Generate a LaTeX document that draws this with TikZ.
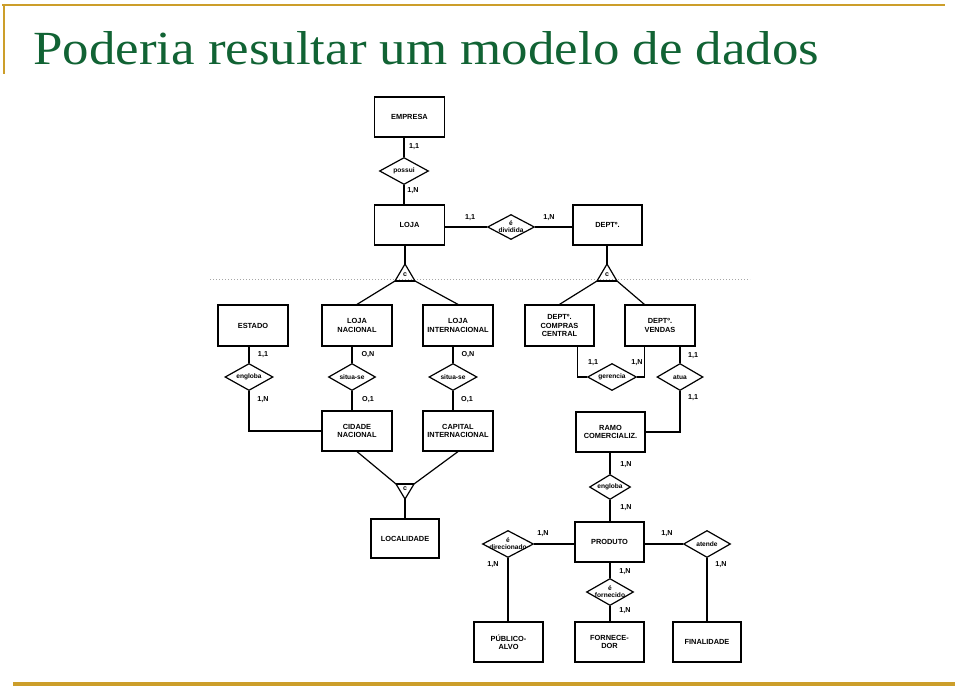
\documentclass[tikz,border=0pt]{standalone}
\usepackage{graphicx}
\usepackage{fontspec}
\setmainfont{Liberation Serif}
\newfontfamily\diagfont{Liberation Sans}
\usetikzlibrary{shapes.geometric,calc}
\definecolor{titlegreen}{RGB}{17,99,52}
\definecolor{slidegold}{RGB}{204,158,42}
\begin{document}
\begin{tikzpicture}[x=1pt,y=-1pt,
  ent/.style 2 args={draw, line width=1.2pt, rectangle, minimum width=#1pt, minimum height=#2pt,
    inner sep=0pt, align=center, font=\diagfont\bfseries\fontsize{7.4}{8.4}\selectfont},
  rtxt/.style={inner sep=0pt, align=center, font=\diagfont\bfseries\fontsize{6.6}{7}\selectfont},
  rel/.style n args={3}{draw, line width=1.2pt, diamond, inner sep=0pt,
    minimum width=#1pt, minimum height=#2pt, label={[rtxt]center:{#3}}},
  card/.style={inner sep=0pt, font=\diagfont\bfseries\fontsize{7.2}{8}\selectfont},
  conn/.style={line width=1.2pt},
  ctxt/.style={inner sep=0pt, font=\diagfont\bfseries\fontsize{7}{7}\selectfont}]
\useasboundingbox (0,0) rectangle (960,687);
% slide frame
\draw[slidegold, line width=2pt] (2,5) -- (945,5);
\draw[slidegold, line width=2pt] (4,4) -- (4,74);
\draw[slidegold, line width=3.5pt] (13,684) -- (955,684);
\node[anchor=base west, inner sep=0pt, text=titlegreen] (title) at (33,65)
  {\resizebox{786pt}{33pt}{Poderia resultar um modelo de dados}};

% faint dotted line
\draw[black!35, line width=0.8pt, dash pattern=on 1pt off 2pt] (210,279) -- (750,279);

% entities
\node[ent={70}{40}] (emp) at (409.5,117) {EMPRESA};
\node[ent={70}{40}] (loja) at (409.5,225) {LOJA};
\node[ent={69}{40}] (dept) at (607.5,225) {DEPTº.};
\node[ent={70}{41}] (estado) at (253,325.5) {ESTADO};
\node[ent={70}{41}] (lnac) at (357,325.5) {LOJA\\NACIONAL};
\node[ent={70}{41}] (lint) at (458,325.5) {LOJA\\INTERNACIONAL};
\node[ent={69}{41}] (dcc) at (559.5,325.5) {DEPTº.\\COMPRAS\\CENTRAL};
\node[ent={70}{41}] (dven) at (660,325.5) {DEPTº.\\VENDAS};
\node[ent={70}{40}] (cnac) at (357,431) {CIDADE\\NACIONAL};
\node[ent={70}{40}] (cint) at (458,431) {CAPITAL\\INTERNACIONAL};
\node[ent={69}{40}] (ramo) at (610.5,432) {RAMO\\COMERCIALIZ.};
\node[ent={68}{39}] (local) at (405,538.5) {LOCALIDADE};
\node[ent={69}{40}] (prod) at (609.5,542) {PRODUTO};
\node[ent={69}{40}] (pub) at (508.5,642) {PÚBLICO-\\ALVO};
\node[ent={69}{40}] (forn) at (609.5,642) {FORNECE-\\DOR};
\node[ent={68}{40}] (fin) at (707,642) {FINALIDADE};

% relationships
\node[rel={49}{27}{possui}] (possui) at (404,171) {};
\node[rel={47}{25}{é\\dividida}] (divi) at (511,227) {};
\node[rel={48}{27}{engloba}] (engl1) at (249,377) {};
\node[rel={47}{27}{situa-se}] (sit1) at (352,377) {};
\node[rel={48}{27}{situa-se}] (sit2) at (453,377) {};
\node[rel={49}{27}{gerencia}] (geren) at (612,377) {};
\node[rel={46}{27}{atua}] (atua) at (680,377) {};
\node[rel={41}{25}{engloba}] (engl2) at (610,487) {};
\node[rel={51}{27}{é\\direcionado}] (direc) at (508,544) {};
\node[rel={47}{27}{é\\fornecido}] (fornec) at (610,592) {};
\node[rel={47}{27}{atende}] (atende) at (707,544) {};

% connectors
\draw[conn] (possui.north |- emp.south) -- (possui.north);
\draw[conn] (possui.south) -- (possui.south |- loja.north);
\draw[conn] (loja.east |- divi.west) -- (divi.west);
\draw[conn] (divi.east) -- (dept.west |- divi.east);
\draw[conn] (engl1.north |- estado.south) -- (engl1.north);
\draw[conn] (engl1.south) |- (cnac.west);
\draw[conn] (sit1.north |- lnac.south) -- (sit1.north);
\draw[conn] (sit1.south) -- (sit1.south |- cnac.north);
\draw[conn] (sit2.north |- lint.south) -- (sit2.north);
\draw[conn] (sit2.south) -- (sit2.south |- cint.north);
\coordinate (dccfoot) at ($(dcc.south west)+(53,0)$);
\coordinate (dvenfoot) at ($(dven.south west)+(20,0)$);
\coordinate (dvenhead) at ($(dven.north west)+(20,0)$);
\draw[conn] (dccfoot) |- (geren.west);
\draw[conn] (geren.east) -| (dvenfoot);
\draw[conn] (atua.north |- dven.south) -- (atua.north);
\draw[conn] (atua.south) |- (ramo.east);
\draw[conn] (engl2.north |- ramo.south) -- (engl2.north);
\draw[conn] (engl2.south) -- (engl2.south |- prod.north);
\draw[conn] (prod.west |- direc.east) -- (direc.east);
\draw[conn] (direc.south) -- (direc.south |- pub.north);
\draw[conn] (fornec.north |- prod.south) -- (fornec.north);
\draw[conn] (fornec.south) -- (fornec.south |- forn.north);
\draw[conn] (prod.east |- atende.west) -- (atende.west);
\draw[conn] (atende.south) -- (atende.south |- fin.north);

% generalisation triangles
\coordinate (t1a) at (405,264); \coordinate (t1l) at (395,281); \coordinate (t1r) at (415,281);
\draw[conn] (t1l) -- (t1a) -- (t1r);
\draw[line width=1.8pt] (t1l) -- (t1r);
\node[ctxt] (c1) at (405,275) {c};
\draw[conn] (t1a |- loja.south) -- (t1a);
\draw[conn] (t1l) -- (lnac.north);
\draw[conn] (t1r) -- (lint.north);

\coordinate (t2a) at (607,264); \coordinate (t2l) at (597,281); \coordinate (t2r) at (617,281);
\draw[conn] (t2l) -- (t2a) -- (t2r);
\draw[line width=1.8pt] (t2l) -- (t2r);
\node[ctxt] (c2) at (607,275) {c};
\draw[conn] (t2a |- dept.south) -- (t2a);
\draw[conn] (t2l) -- (dcc.north);
\draw[conn] (t2r) -- (dvenhead);

\coordinate (t3a) at (405,499); \coordinate (t3l) at (396,484); \coordinate (t3r) at (414,484);
\draw[conn] (t3l) -- (t3a) -- (t3r);
\draw[line width=1.5pt] (t3l) -- (t3r);
\node[ctxt] (c3) at (405,489) {c};
\draw[conn] (cnac.south) -- (t3l);
\draw[conn] (cint.south) -- (t3r);
\draw[conn] (t3a) -- (local.north);

% cardinalities
\node[card] (k1) at (414,147) {1,1};
\node[card] (k2) at (413,191) {1,N};
\node[card] (k3) at (470,218) {1,1};
\node[card] (k4) at (549,218) {1,N};
\node[card] (k5) at (263,355) {1,1};
\node[card] (k6) at (263,400) {1,N};
\node[card] (k7) at (368,355) {O,N};
\node[card] (k8) at (368,400) {O,1};
\node[card] (k9) at (468,355) {O,N};
\node[card] (k10) at (467,400) {O,1};
\node[card] (k11) at (593,363) {1,1};
\node[card] (k12) at (637,363) {1,N};
\node[card] (k13) at (693,356) {1,1};
\node[card] (k14) at (693,398) {1,1};
\node[card] (k15) at (626,465) {1,N};
\node[card] (k16) at (626,508) {1,N};
\node[card] (k17) at (543,534) {1,N};
\node[card] (k18) at (493,565) {1,N};
\node[card] (k19) at (625,572) {1,N};
\node[card] (k20) at (625,611) {1,N};
\node[card] (k21) at (667,534) {1,N};
\node[card] (k22) at (721,565) {1,N};
\end{tikzpicture}
\end{document}
